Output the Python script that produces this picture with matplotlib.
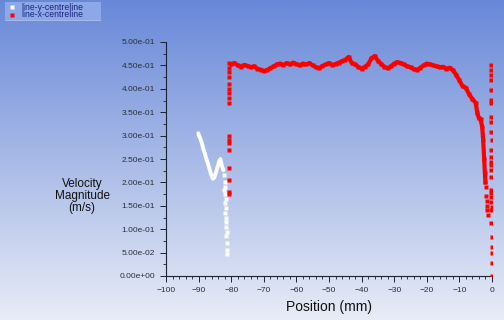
import numpy as np
import matplotlib
matplotlib.use("Agg")
import matplotlib.pyplot as plt
from matplotlib.ticker import MultipleLocator, FuncFormatter

plt.rcParams['font.family'] = ['Liberation Sans', 'DejaVu Sans']

# white series: line-y-centreline (curve then scatter)
yc_x = [-90.1, -89.9, -89.6, -89.3, -89.0, -88.7, -88.4, -88.0, -87.6, -87.2, -86.8, -86.4,
        -86.0, -85.6, -85.2, -84.8, -84.4, -84.0, -83.6, -83.3, -83.0, -82.7, -82.4]
yc_v = [0.305, 0.300, 0.296, 0.290, 0.284, 0.275, 0.268, 0.260, 0.250, 0.242, 0.232, 0.222,
        0.214, 0.208, 0.210, 0.218, 0.228, 0.238, 0.246, 0.250, 0.240, 0.232, 0.226]
yd_x = [-82.2, -82.0, -81.9, -82.1, -81.8, -81.7, -81.9, -81.6, -81.8, -81.5, -81.7, -81.6,
        -81.4, -81.5, -81.4, -81.3, -81.4]
yd_v = [0.215, 0.200, 0.190, 0.184, 0.175, 0.165, 0.155, 0.145, 0.135, 0.125, 0.115, 0.105,
        0.095, 0.085, 0.070, 0.055, 0.048]

# red series: line-x-centreline
xc_x = [float(v) for v in range(-80, -4)] + [-4.5, -4.0, -3.5, -3.0, -2.7, -2.4, -2.2, -2.0]
xc_v = [0.452, 0.455, 0.450, 0.447, 0.451, 0.449, 0.446, 0.448, 0.443, 0.441,
        0.438, 0.440, 0.444, 0.448, 0.452, 0.454, 0.451, 0.455, 0.452, 0.456,
        0.453, 0.450, 0.454, 0.452, 0.455, 0.450, 0.446, 0.444, 0.449, 0.452,
        0.455, 0.451, 0.453, 0.456, 0.459, 0.462, 0.468, 0.455, 0.452, 0.447,
        0.443, 0.447, 0.452, 0.465, 0.470, 0.460, 0.453, 0.447, 0.444, 0.448,
        0.454, 0.457, 0.455, 0.452, 0.448, 0.446, 0.442, 0.440, 0.445, 0.450,
        0.454, 0.452, 0.450, 0.448, 0.446, 0.447, 0.443, 0.445, 0.440, 0.430,
        0.418, 0.405, 0.402, 0.388, 0.378, 0.370,
        0.348, 0.337, 0.335, 0.318, 0.290, 0.250, 0.220, 0.200]
xt_x = [-1.8, -1.7, -1.6, -1.5, -1.4, -1.3]
xt_v = [0.190, 0.170, 0.160, 0.150, 0.140, 0.130]
xl_x = [-80.6] * 17
xl_v = [0.455, 0.445, 0.435, 0.425, 0.410, 0.400, 0.390, 0.380, 0.370,
        0.300, 0.290, 0.284, 0.270, 0.230, 0.205, 0.180, 0.175]
xr_x = [-0.3, -0.2, -0.3, -0.2, -0.3, -0.2, -0.3, -0.2, -0.3, -0.2, -0.1, -0.2, -0.3, -0.2, -0.3,
        -0.2, -0.3, -0.2, -0.2, -0.3, -0.2, -0.1, -0.2, -0.2, -0.1, -0.1, -0.1, -0.1, 0.0]
xr_v = [0.451, 0.440, 0.429, 0.419, 0.397, 0.376, 0.370, 0.340, 0.329, 0.308, 0.291, 0.269,
        0.254, 0.244, 0.237, 0.226, 0.212, 0.184, 0.177, 0.169, 0.158, 0.147, 0.141, 0.113,
        0.083, 0.062, 0.049, 0.028, 0.0]

x_ticks = np.arange(-100, 1, 10)
y_ticks = np.arange(0, 0.51, 0.05)
legend_names = ['line-y-centreline', 'line-x-centreline']

fig = plt.figure(figsize=(5.04, 3.2), dpi=100)

# gradient background
bg = fig.add_axes([0, 0, 1, 1], zorder=-10)
top = np.array([104, 136, 216]) / 255
bot = np.array([232, 236, 246]) / 255
t = np.linspace(0, 1, 256)[:, None]
grad = top[None, :] * (1 - t) + bot[None, :] * t
bg.imshow(grad[:, None, :], aspect='auto', extent=[0, 1, 0, 1])
bg.axis('off')

ax = fig.add_axes([166/504, 44/320, 326/504, 234/320])
ax.patch.set_alpha(0)
ms = 2.2
ax.plot(yc_x, yc_v, color='white', lw=2.8, solid_capstyle='round', solid_joinstyle='round', zorder=3)
ax.plot(yd_x, yd_v, 's', color='white', ms=ms, mec='none', zorder=3)
ax.plot(xc_x, xc_v, color='#ff0000', lw=3.0, zorder=4)
ax.plot(xc_x, xc_v, 's', color='#ff0000', ms=ms, mec='none', zorder=4)
ax.plot(xt_x, xt_v, 's', color='#ff0000', ms=ms, mec='none', zorder=4)
ax.plot(xl_x, xl_v, 's', color='#ff0000', ms=ms + 0.4, mec='none', zorder=4)
ax.plot(xr_x, xr_v, 's', color='#ff0000', ms=ms + 0.4, mec='none', zorder=4)

ax.set_xlim(-100, 0)
ax.set_ylim(0, 0.5)
ax.set_xticks(x_ticks)
ax.set_yticks(y_ticks)
ax.xaxis.set_minor_locator(MultipleLocator(2))
ax.yaxis.set_minor_locator(MultipleLocator(0.025))
ax.yaxis.set_major_formatter(FuncFormatter(lambda v, p: '{:.2e}'.format(abs(v) if abs(v) < 1e-9 else v)))
for s in ['top', 'right']:
    ax.spines[s].set_visible(False)
for s in ['left', 'bottom']:
    ax.spines[s].set_color('#1a2233')
    ax.spines[s].set_linewidth(0.8)
    ax.spines[s].set_clip_on(False)
ax.tick_params(which='major', length=4, width=0.7, color='#1a2233', labelsize=6, labelcolor='#2a2f3a', pad=4)
ax.tick_params(which='minor', length=2, width=0.6, color='#1a2233')
ax.set_xlabel('Position (mm)', fontsize=10, color='#111111', labelpad=4)

fig.text(82/504, 1 - 196/320, 'Velocity\nMagnitude\n(m/s)', ha='center', va='center',
         fontsize=8.5, color='#111111', linespacing=0.95)

# legend box, names clipped as in the original
lg = fig.add_axes([5/504, 1 - 21/320, 96/504, 19/320])
lg.set_xlim(0, 96)
lg.set_ylim(19, 0)
lg.set_facecolor((0.55, 0.66, 0.9))
for s in lg.spines.values():
    s.set_visible(False)
lg.set_xticks([])
lg.set_yticks([])
lg.plot([0, 96], [18.6, 18.6], color='white', lw=1)
lg.plot([7], [5], 's', color='white', ms=2.4, mec='none')
lg.plot([7], [12.5], 's', color='#ff0000', ms=2.4, mec='none')
lg.text(16, 5, legend_names[0], fontsize=6.2, color='#1a237e', va='center', clip_on=True)
lg.text(16, 12.5, legend_names[1], fontsize=6.2, color='#1a237e', va='center', clip_on=True)

fig.savefig('out.png', dpi=100)
